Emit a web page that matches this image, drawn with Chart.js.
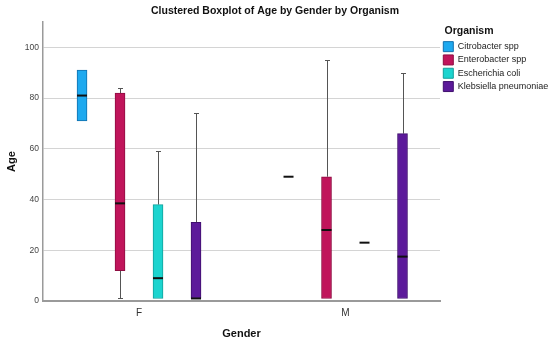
<!DOCTYPE html>
<html>
<head>
<meta charset="utf-8">
<script src="https://cdn.jsdelivr.net/npm/chart.js@4/dist/chart.umd.min.js"></script>
<style>
  html, body { margin: 0; padding: 0; background: #ffffff; }
  #wrap { width: 550px; height: 344px; position: relative; }
</style>
</head>
<body>
<div id="wrap"><canvas id="c" width="550" height="344"></canvas></div>
<script>
// ---- data (rows: organisms, columns: genders F, M) ----
const genders = ['F', 'M'];
const organisms = ['Citrobacter spp', 'Enterobacter spp', 'Escherichia coli', 'Klebsiella pneumoniae'];
const minValues    = [[71, 49], [1, 1],    [1, 23],  [1, 1]];
const q1Values     = [[71, 49], [12, 1],   [1, 23],  [1, 1]];
const medianValues = [[81, 49], [38.5, 28],[9, 23],  [1, 17.5]];
const q3Values     = [[91, 49], [82, 49],  [38, 23], [31, 66]];
const maxValues    = [[91, 49], [84, 95],  [59, 23], [74, 90]];
const yTicks = [0, 20, 40, 60, 80, 100];

// ---- styles ----
const fillColors   = ['#1EA9EF', '#C0155B', '#1CD4CF', '#5C1A9A'];
const borderColors = ['#1270AD', '#8E0E42', '#12A09B', '#40106E'];
const clusterStep = 0.184;
const boxPx = 10;

function xPos(i, gi) { return gi + 1 + (i - 1.5) * clusterStep; }

const datasets = organisms.map((name, i) => ({
  label: name,
  data: genders.map((g, gi) => ({
    x: xPos(i, gi),
    y: q3Values[i][gi] > q1Values[i][gi] ? [q1Values[i][gi], q3Values[i][gi]] : null
  })),
  backgroundColor: fillColors[i],
  borderColor: borderColors[i],
  borderWidth: 1,
  borderSkipped: false,
  grouped: false,
  barThickness: boxPx
}));

const boxPlugin = {
  id: 'boxParts',
  beforeLayout(chart) {
    const lg = chart.legend;
    if (lg && !lg._wrapped) {
      const orig = lg.fit;
      lg.fit = function () { orig.call(this); this.width = 110; };
      lg.draw = function () {
        const w = this.width;
        this.width = 58;       // title centred over the narrower legend column
        this._draw();
        this.width = w;
      };
      lg._wrapped = true;
    }
  },
  beforeDatasetsDraw(chart) {
    const ctx = chart.ctx, xs = chart.scales.x, ys = chart.scales.y;
    ctx.save();
    ctx.strokeStyle = '#555555';
    ctx.lineWidth = 1;
    organisms.forEach((o, i) => {
      genders.forEach((g, gi) => {
        const cx = Math.round(xs.getPixelForValue(xPos(i, gi))) + 0.5;
        const pairs = [];
        if (maxValues[i][gi] > q3Values[i][gi]) pairs.push([q3Values[i][gi], maxValues[i][gi]]);
        if (minValues[i][gi] < q1Values[i][gi]) pairs.push([q1Values[i][gi], minValues[i][gi]]);
        pairs.forEach(([from, to]) => {
          const y0 = ys.getPixelForValue(from), y1 = Math.round(ys.getPixelForValue(to)) + 0.5;
          ctx.beginPath();
          ctx.moveTo(cx, y0); ctx.lineTo(cx, y1);
          ctx.moveTo(cx - 2.5, y1); ctx.lineTo(cx + 2.5, y1);
          ctx.stroke();
        });
      });
    });
    ctx.restore();
  },
  afterDatasetsDraw(chart) {
    const ctx = chart.ctx, xs = chart.scales.x, ys = chart.scales.y;
    ctx.save();
    ctx.strokeStyle = '#111111';
    ctx.lineWidth = 2;
    organisms.forEach((o, i) => {
      genders.forEach((g, gi) => {
        const cx = xs.getPixelForValue(xPos(i, gi));
        const y = ys.getPixelForValue(medianValues[i][gi]);
        ctx.beginPath();
        ctx.moveTo(cx - boxPx / 2, y); ctx.lineTo(cx + boxPx / 2, y);
        ctx.stroke();
      });
    });
    ctx.restore();
  }
};

new Chart(document.getElementById('c'), {
  type: 'bar',
  data: { datasets },
  plugins: [boxPlugin],
  options: {
    responsive: false,
    animation: false,
    layout: { padding: 0 },
    plugins: {
      tooltip: { enabled: false },
      title: {
        display: true,
        text: 'Clustered Boxplot of Age by Gender by Organism',
        color: '#111111',
        font: { family: 'Liberation Sans, Arial, sans-serif', size: 10.5, weight: 'bold' },
        padding: { top: 4.7, bottom: 4.7 }
      },
      legend: {
        display: true,
        position: 'right',
        align: 'start',
        fullSize: false,
        title: {
          display: true,
          text: 'Organism',
          color: '#111111',
          font: { family: 'Liberation Sans, Arial, sans-serif', size: 10.5, weight: 'bold' },
          padding: { top: 3.75, bottom: 0 }
        },
        labels: {
          boxWidth: 10,
          boxHeight: 10,
          padding: 3.3,
          color: '#222222',
          font: { family: 'Liberation Sans, Arial, sans-serif', size: 9 }
        }
      }
    },
    scales: {
      x: {
        type: 'linear',
        offset: false,
        min: 0.535,
        max: 2.4576,
        afterFit(s) { s.height = 43; },
        afterBuildTicks(s) { s.ticks = genders.map((g, gi) => ({ value: gi + 1 })); },
        ticks: {
          callback: (v) => genders[Math.round(v) - 1] || '',
          color: '#333333',
          padding: 6,
          autoSkip: false,
          maxRotation: 0,
          font: { family: 'Liberation Sans, Arial, sans-serif', size: 10 }
        },
        grid: { display: false, drawTicks: false },
        border: { display: true, color: '#9a9a9a', width: 2 },
        title: {
          display: true,
          text: 'Gender',
          color: '#111111',
          font: { family: 'Liberation Sans, Arial, sans-serif', size: 11, weight: 'bold' },
          padding: { top: 3.4, bottom: 3.4 }
        }
      },
      y: {
        min: 0,
        max: 110,
        afterFit(s) { s.width = 43; },
        afterBuildTicks(s) { s.ticks = yTicks.map(v => ({ value: v })); },
        ticks: {
          color: '#444444',
          padding: 4,
          font: { family: 'Liberation Sans, Arial, sans-serif', size: 8.5 }
        },
        grid: { color: '#d4d4d4', lineWidth: 1, drawTicks: false },
        border: { display: true, color: '#9a9a9a', width: 1.5 },
        title: {
          display: true,
          text: 'Age',
          color: '#111111',
          font: { family: 'Liberation Sans, Arial, sans-serif', size: 11, weight: 'bold' },
          padding: { top: 5.4, bottom: 5.4 }
        }
      }
    }
  }
});
</script>
</body>
</html>
